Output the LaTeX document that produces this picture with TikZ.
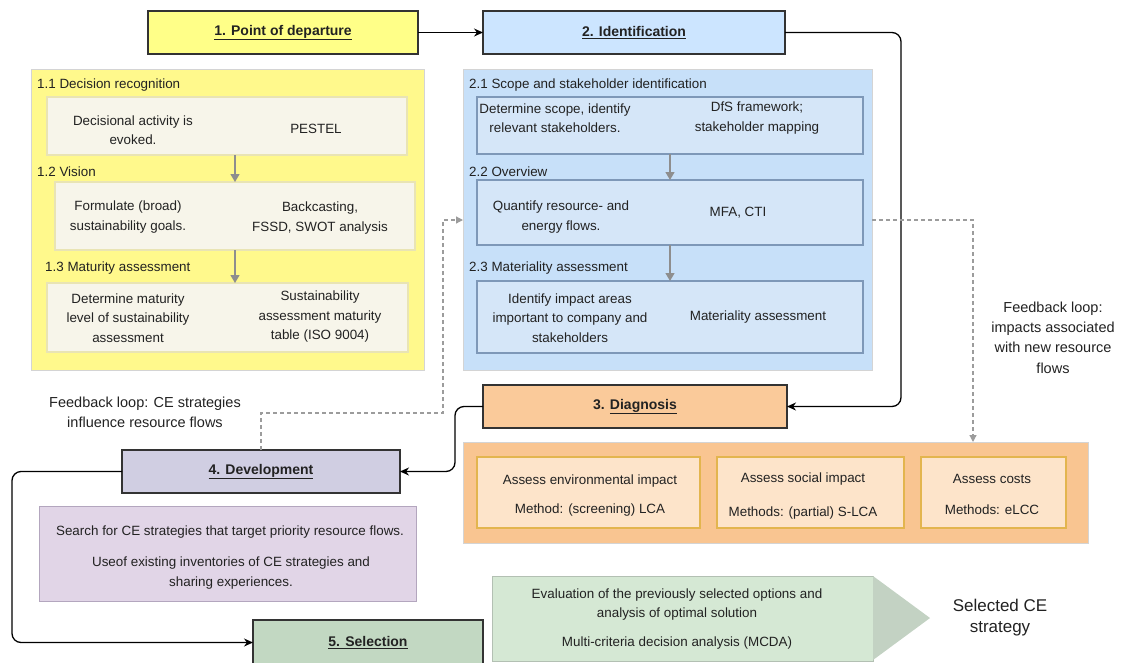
\documentclass[tikz,border=0pt]{standalone}
\usepackage{fontspec}
\setmainfont{Liberation Sans}
\usetikzlibrary{arrows.meta}

\definecolor{stageline}{HTML}{333333}
\definecolor{ylwStage}{HTML}{FFFF88}
\definecolor{ylwPanel}{HTML}{FFF98C}
\definecolor{ylwCard}{HTML}{F7F5EA}
\definecolor{ylwCardLine}{HTML}{E9E4B4}
\definecolor{bluStage}{HTML}{CCE5FF}
\definecolor{bluPanel}{HTML}{C7E0F9}
\definecolor{bluCard}{HTML}{D5E6F8}
\definecolor{bluCardLine}{HTML}{7E98B8}
\definecolor{orgStage}{HTML}{FACA9A}
\definecolor{orgPanel}{HTML}{F9C591}
\definecolor{orgCard}{HTML}{FDE4CA}
\definecolor{orgCardLine}{HTML}{E3B54E}
\definecolor{purStage}{HTML}{D0CEE2}
\definecolor{purPanel}{HTML}{E1D5E7}
\definecolor{purLine}{HTML}{B3A6BE}
\definecolor{grnStage}{HTML}{C2D8C2}
\definecolor{grnBody}{HTML}{D5E8D4}
\definecolor{grnTip}{HTML}{C3D2C3}
\definecolor{grnLine}{HTML}{B3C0B3}
\definecolor{stepArrow}{HTML}{8E8E8E}
\definecolor{loopLine}{HTML}{9C9C9C}
\definecolor{panelLine}{HTML}{D4D4D4}
\definecolor{textcol}{HTML}{222222}

\newcommand\bodyfont{\fontsize{13.4}{19.5}\selectfont}
\newcommand\stagefont{\fontsize{14}{17}\selectfont\bfseries}

\tikzset{
  stage/.style={draw=stageline, line width=1.6pt, inner sep=0pt, outer sep=0pt,
    anchor=north west, font=\stagefont, text=textcol},
  panel/.style={draw=panelLine, line width=0.7pt, inner sep=0pt, outer sep=0pt,
    anchor=north west},
  card/.style={line width=1.1pt, inner sep=0pt, outer sep=0pt, anchor=north west},
  seclabel/.style={anchor=west, inner sep=0pt, font=\bodyfont, text=textcol},
  txt/.style={align=center, inner sep=0pt, font=\bodyfont, text=textcol},
  looptxt/.style={align=center, inner sep=0pt, font=\fontsize{14.5}{20.3}\selectfont, text=textcol},
  flow/.style={draw=black, line width=1.3pt, -{Stealth[length=9pt,width=8pt]}},
  steparrow/.style={draw=stepArrow, line width=1.3pt, -{Triangle[length=8pt,width=9pt]}},
  loop/.style={draw=loopLine, line width=1.2pt, dash pattern=on 4pt off 3pt,
    -{Triangle[length=7pt,width=7pt]}}
}

\begin{document}
\begin{tikzpicture}[x=1pt,y=-1pt]
\useasboundingbox[fill=white] (0,0) rectangle (1122,662);

% ---------- stage 1: point of departure ----------
\node[panel, fill=ylwPanel, minimum width=393pt, minimum height=301pt] (p1) at (31,69) {};
\node[card, fill=ylwCard, draw=ylwCardLine, minimum width=360pt, minimum height=58pt] (c11) at (47,97) {};
\node[card, fill=ylwCard, draw=ylwCardLine, minimum width=360pt, minimum height=68pt] (c12) at (55,182) {};
\node[card, fill=ylwCard, draw=ylwCardLine, minimum width=361pt, minimum height=69pt] (c13) at (47,283) {};

\node[seclabel] (l11) at (37,85) {1.1 Decision recognition};
\node[seclabel] (l12) at (37,172) {1.2 Vision};
\node[seclabel] (l13) at (45,268) {1.3 Maturity assessment};

\node[txt] (t11a) at (133,130) {Decisional activity is\\evoked.};
\node[txt] (t11b) at (316,129) {PESTEL};
\node[txt] (t12a) at (128,217) {Formulate (broad)\\sustainability goals.};
\node[txt] (t12b) at (320,218) {Backcasting,\\FSSD, SWOT analysis};
\node[txt] (t13a) at (128,318) {Determine maturity\\level of sustainability\\assessment};
\node[txt] (t13b) at (320,317) {Sustainability\\assessment maturity\\table (ISO 9004)};

\coordinate (ax1) at (235,0);
\draw[steparrow] (c11.south -| ax1) -- (c12.north -| ax1);
\draw[steparrow] (c12.south -| ax1) -- (c13.north -| ax1);

% ---------- stage 2: identification ----------
\node[panel, fill=bluPanel, minimum width=409pt, minimum height=301pt] (p2) at (463,69) {};
\node[card, fill=bluCard, draw=bluCardLine, minimum width=386pt, minimum height=57pt] (c21) at (477,97) {};
\node[card, fill=bluCard, draw=bluCardLine, minimum width=386pt, minimum height=65pt] (c22) at (477,180) {};
\node[card, fill=bluCard, draw=bluCardLine, minimum width=386pt, minimum height=72pt] (c23) at (477,281) {};

\node[seclabel] (l21) at (469,85) {2.1 Scope and stakeholder identification};
\node[seclabel] (l22) at (469,172) {2.2 Overview};
\node[seclabel] (l23) at (469,268) {2.3 Materiality assessment};

\node[txt] (t21a) at (555,118) {Determine scope, identify\\relevant stakeholders.};
\node[txt] (t21b) at (757,118) {DfS framework;\\stakeholder mapping};
\node[txt] (t22a) at (561,217) {Quantify resource- and\\energy flows.};
\node[txt] (t22b) at (738,213) {MFA, CTI};
\node[txt] (t23a) at (570,318) {Identify impact areas\\important to company and\\stakeholders};
\node[txt] (t23b) at (758,317) {Materiality assessment};

\draw[steparrow] (c21.south) -- (c22.north);
\draw[steparrow] (c22.south) -- (c23.north);

% ---------- stage 3: diagnosis ----------
\node[panel, fill=orgPanel, minimum width=625pt, minimum height=101pt] (p3) at (463,442) {};
\node[card, fill=orgCard, draw=orgCardLine, minimum width=223pt, minimum height=71pt] (c31) at (477,457) {};
\node[card, fill=orgCard, draw=orgCardLine, minimum width=187pt, minimum height=71pt] (c32) at (717,457) {};
\node[card, fill=orgCard, draw=orgCardLine, minimum width=145pt, minimum height=71pt] (c33) at (921,457) {};

\node[txt] (t31a) at (590,481) {Assess environmental impact};
\node[txt] (t31b) at (590,510) {Method: (screening) LCA};
\node[txt] (t32a) at (803,479) {Assess social impact};
\node[txt] (t32b) at (803,513) {Methods: (partial) S-LCA};
\node[txt] (t33a) at (992,479) {Assess costs};
\node[txt] (t33b) at (992,510) {Methods: eLCC};

% ---------- stage 4: development ----------
\node[panel, fill=purPanel, draw=purLine, minimum width=377pt, minimum height=95pt] (p4) at (39,506) {};
\node[txt] (t41) at (230,532) {Search for CE strategies that target priority resource flows.};
\node[txt] (t42) at (231,573) {Useof existing inventories of CE strategies and\\sharing experiences.};

% ---------- stage 5: selection ----------
\path[fill=grnBody, draw=grnLine, line width=0.6pt] (492,576) -- (873,576) -- (873,661) -- (492,661) -- cycle;
\fill[grnTip] (873,576) -- (930,618) -- (873,660) -- cycle;
\node[txt] (t51) at (677,604.5) {Evaluation of the previously selected options and\\analysis of optimal solution};
\node[txt] (t52) at (677,643) {Multi-criteria decision analysis (MCDA)};
\node[txt, font=\fontsize{17}{21}\selectfont] (res) at (1000,618) {Selected CE\\strategy};

% ---------- stage headers ----------
\node[stage, fill=ylwStage, minimum width=270pt, minimum height=43pt] (s1) at (148,11) {\underline{1. Point of departure}};
\node[stage, fill=bluStage, minimum width=302pt, minimum height=43pt] (s2) at (483,11) {\underline{2. Identification}};
\node[stage, fill=orgStage, minimum width=304pt, minimum height=43pt] (s3) at (483,385) {3. \underline{Diagnosis}};
\node[stage, fill=purStage, minimum width=278pt, minimum height=43pt] (s4) at (122,450) {\underline{4. Development}};
\node[stage, fill=grnStage, minimum width=230pt, minimum height=45pt] (s5) at (253,620) {\underline{5. Selection}};

% ---------- main flow ----------
\coordinate (rx) at (901,0);
\coordinate (mx) at (455,0);
\coordinate (lx) at (12,0);
\draw[flow] (s1.east) -- (s2.west);
\draw[flow, rounded corners=9pt] (s2.east) -- (s2.east -| rx) -- (s3.east -| rx) -- (s3.east);
\draw[flow, rounded corners=9pt] (s3.west) -- (s3.west -| mx) -- (s4.east -| mx) -- (s4.east);
\draw[flow, rounded corners=9pt] (s4.west) -- (s4.west -| lx) -- (s5.west -| lx) -- (s5.west);

% ---------- feedback loops ----------
\coordinate (fy1) at (0,413);
\coordinate (fx1) at (443,0);
\coordinate (fy2) at (0,220);
\coordinate (fx2) at (973,0);
\draw[loop] (s4.north) -- (s4.north |- fy1) -- (fx1 |- fy1) -- (fx1 |- fy2) -- (p2.west |- fy2);
\draw[loop] (p2.east |- fy2) -- (fx2 |- fy2) -- (fx2 |- p3.north);

\node[looptxt] (fb1) at (145,412) {Feedback loop: CE strategies\\influence resource flows};
\node[looptxt] (fb2) at (1053,337.5) {Feedback loop:\\impacts associated\\with new resource\\flows};

\end{tikzpicture}
\end{document}
